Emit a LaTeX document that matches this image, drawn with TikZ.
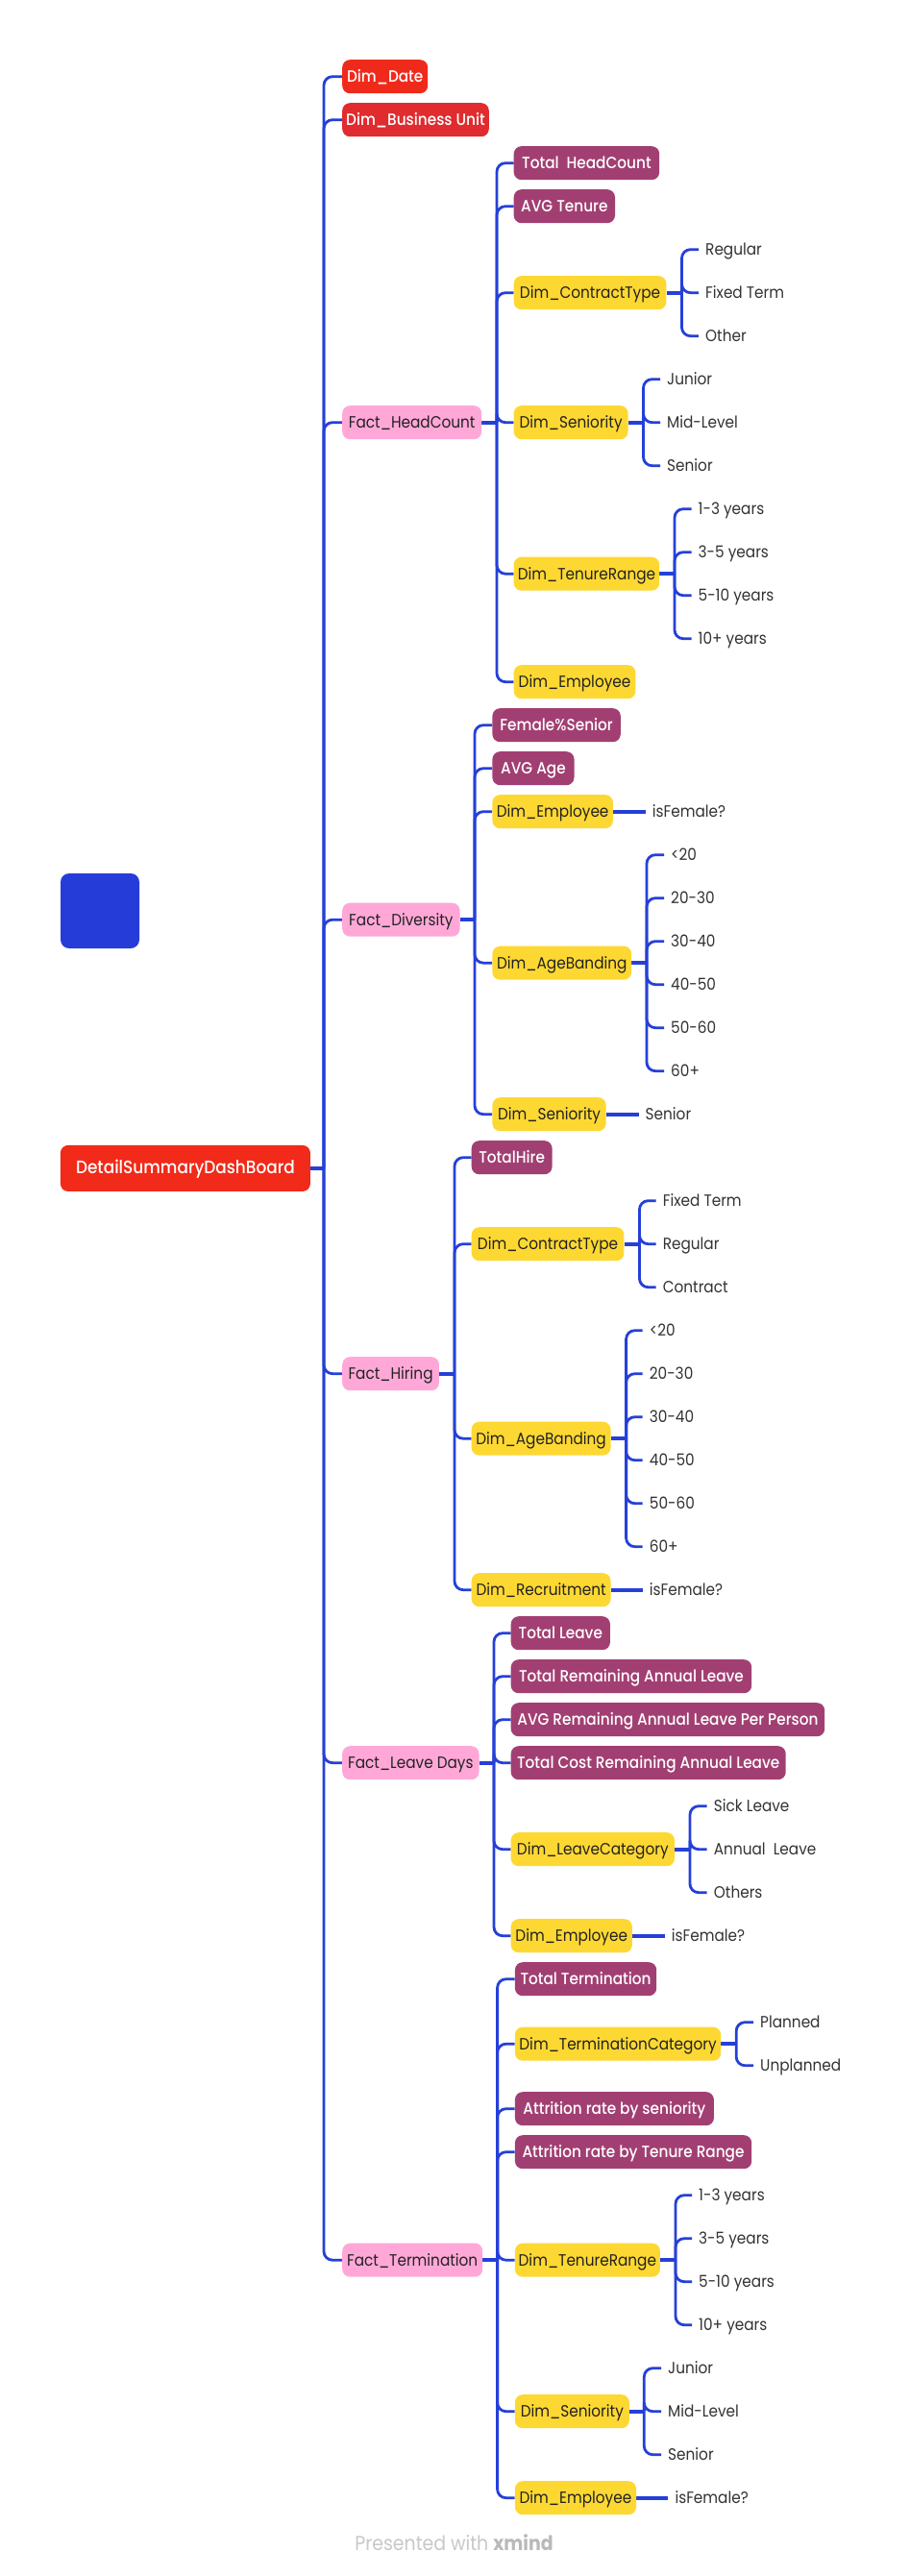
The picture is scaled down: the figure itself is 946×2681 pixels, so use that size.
\documentclass[tikz,border=0pt]{standalone}
\usepackage{fontspec}
\setmainfont{Poppins}[FakeStretch=0.9]
\newfontfamily\mediumfont{Poppins Medium}[FakeStretch=0.9]
\usetikzlibrary{backgrounds}

\definecolor{linkblue}{RGB}{37,64,216}
\definecolor{rootred}{RGB}{241,42,25}
\definecolor{datered}{RGB}{240,42,27}
\definecolor{unitred}{RGB}{224,43,47}
\definecolor{factpink}{RGB}{255,168,216}
\definecolor{measurepurple}{RGB}{162,63,114}
\definecolor{dimyellow}{RGB}{254,216,50}
\definecolor{squareblue}{RGB}{37,60,216}
\definecolor{darktext}{RGB}{34,34,34}
\definecolor{leaftext}{RGB}{51,51,51}
\definecolor{creditgray}{RGB}{200,200,200}
\definecolor{creditbold}{RGB}{185,185,185}

% row k of the outline sits at this vertical position
\newcommand\R[1]{79.7+45*(#1)}
% stub from a parent to its trunk, then one elbow per child
\newcommand\branch[3]{%
  \draw[stub] (#1.east) -- (#2);
  \foreach \c in {#3} {\draw[link] (#2) |- (\c.west);}%
}

\tikzset{
  topic/.style={rounded corners=8pt, minimum height=35pt, inner xsep=0pt, inner ysep=0pt,
    anchor=west, text height=15pt, text depth=3pt, font=\fontsize{17}{20}\selectfont},
  rootbox/.style={topic, minimum height=48pt, fill=rootred, text=white,
    font=\mediumfont\fontsize{18.8}{22}\selectfont},
  redtopic/.style={topic, fill=datered, text=white, font=\mediumfont\fontsize{17}{20}\selectfont},
  unittopic/.style={topic, fill=unitred, text=white, font=\mediumfont\fontsize{17}{20}\selectfont},
  fact/.style={topic, fill=factpink, text=darktext},
  measure/.style={topic, fill=measurepurple, text=white, font=\mediumfont\fontsize{17}{20}\selectfont},
  dim/.style={topic, fill=dimyellow, text=darktext},
  leaf/.style={anchor=west, inner xsep=7pt, inner ysep=0pt, text height=15pt, text depth=3pt,
    text=leaftext, font=\fontsize{17}{20}\selectfont},
  link/.style={draw=linkblue, line width=2.8pt, rounded corners=9pt},
  stub/.style={draw=linkblue, line width=4pt},
}

\begin{document}
\begin{tikzpicture}[x=1pt,y=-1pt]
\useasboundingbox (0,0) rectangle (946,2681);

% free-standing blue tile
\node[fill=squareblue, rounded corners=9pt, minimum width=82pt, minimum height=78pt, inner sep=0pt]
  (tile) at (104,948) {};

% central topic
\node[rootbox, minimum width=260] (root) at (62.7,{\R{25.25}}) {DetailSummaryDashBoard};

% main branches
\node[redtopic, minimum width=89] (date) at (356,{\R{0}}) {Dim\_Date};
\node[unittopic, minimum width=152.6] (bu) at (356,{\R{1}}) {Dim\_Business Unit};
\node[fact, minimum width=145] (fhc) at (356,{\R{8}}) {Fact\_HeadCount};
\node[fact, minimum width=122.4] (fdv) at (356,{\R{19.5}}) {Fact\_Diversity};
\node[fact, minimum width=100.7] (fhr) at (356,{\R{30}}) {Fact\_Hiring};
\node[fact, minimum width=142.3] (fld) at (356,{\R{39}}) {Fact\_Leave Days};
\node[fact, minimum width=146] (ftm) at (356,{\R{50.5}}) {Fact\_Termination};

% Fact_HeadCount
\node[measure, minimum width=151.5] (hcm1) at (534.5,{\R{2}}) {Total~~HeadCount};
\node[measure, minimum width=105.3] (hcm2) at (534.5,{\R{3}}) {AVG Tenure};
\node[dim, minimum width=158.7] (hcct) at (534.5,{\R{5}}) {Dim\_ContractType};
\node[leaf] (hcct1) at (727,{\R{4}}) {Regular};
\node[leaf] (hcct2) at (727,{\R{5}}) {Fixed Term};
\node[leaf] (hcct3) at (727,{\R{6}}) {Other};
\node[dim, minimum width=118.9] (hcsn) at (534.5,{\R{8}}) {Dim\_Seniority};
\node[leaf] (hcsn1) at (687,{\R{7}}) {Junior};
\node[leaf] (hcsn2) at (687,{\R{8}}) {Mid-Level};
\node[leaf] (hcsn3) at (687,{\R{9}}) {Senior};
\node[dim, minimum width=151.5] (hctr) at (534.5,{\R{11.5}}) {Dim\_TenureRange};
\node[leaf] (hctr1) at (719.5,{\R{10}}) {1-3 years};
\node[leaf] (hctr2) at (719.5,{\R{11}}) {3-5 years};
\node[leaf] (hctr3) at (719.5,{\R{12}}) {5-10 years};
\node[leaf] (hctr4) at (719.5,{\R{13}}) {10+ years};
\node[dim, minimum width=126.7] (hcem) at (534.5,{\R{14}}) {Dim\_Employee};

% Fact_Diversity
\node[measure, minimum width=133.4] (dvm1) at (512.2,{\R{15}}) {Female\%Senior};
\node[measure, minimum width=85.1] (dvm2) at (512.2,{\R{16}}) {AVG Age};
\node[dim, minimum width=125.5] (dvem) at (512.2,{\R{17}}) {Dim\_Employee};
\node[leaf] (dvem1) at (671.7,{\R{17}}) {isFemale?};
\node[dim, minimum width=144.8] (dvab) at (512.2,{\R{20.5}}) {Dim\_AgeBanding};
\node[leaf] (dvab1) at (691,{\R{18}}) {<20};
\node[leaf] (dvab2) at (691,{\R{19}}) {20-30};
\node[leaf] (dvab3) at (691,{\R{20}}) {30-40};
\node[leaf] (dvab4) at (691,{\R{21}}) {40-50};
\node[leaf] (dvab5) at (691,{\R{22}}) {50-60};
\node[leaf] (dvab6) at (691,{\R{23}}) {60+};
\node[dim, minimum width=118.3] (dvsn) at (512.2,{\R{24}}) {Dim\_Seniority};
\node[leaf] (dvsn1) at (664.5,{\R{24}}) {Senior};

% Fact_Hiring
\node[measure, minimum width=83.9] (hrm1) at (490.5,{\R{25}}) {TotalHire};
\node[dim, minimum width=158.7] (hrct) at (490.5,{\R{27}}) {Dim\_ContractType};
\node[leaf] (hrct1) at (682.6,{\R{26}}) {Fixed Term};
\node[leaf] (hrct2) at (682.6,{\R{27}}) {Regular};
\node[leaf] (hrct3) at (682.6,{\R{28}}) {Contract};
\node[dim, minimum width=144.8] (hrab) at (490.5,{\R{31.5}}) {Dim\_AgeBanding};
\node[leaf] (hrab1) at (668.7,{\R{29}}) {<20};
\node[leaf] (hrab2) at (668.7,{\R{30}}) {20-30};
\node[leaf] (hrab3) at (668.7,{\R{31}}) {30-40};
\node[leaf] (hrab4) at (668.7,{\R{32}}) {40-50};
\node[leaf] (hrab5) at (668.7,{\R{33}}) {50-60};
\node[leaf] (hrab6) at (668.7,{\R{34}}) {60+};
\node[dim, minimum width=144.8] (hrrc) at (490.5,{\R{35}}) {Dim\_Recruitment};
\node[leaf] (hrrc1) at (668.7,{\R{35}}) {isFemale?};

% Fact_Leave Days
\node[measure, minimum width=103.2] (ldm1) at (531.5,{\R{36}}) {Total Leave};
\node[measure, minimum width=250.5] (ldm2) at (531.5,{\R{37}}) {Total Remaining Annual Leave};
\node[measure, minimum width=326.5] (ldm3) at (531.5,{\R{38}}) {AVG Remaining Annual Leave Per Person};
\node[measure, minimum width=286] (ldm4) at (531.5,{\R{39}}) {Total Cost Remaining Annual Leave};
\node[dim, minimum width=170.2] (ldlc) at (531.5,{\R{41}}) {Dim\_LeaveCategory};
\node[leaf] (ldlc1) at (735.7,{\R{40}}) {Sick Leave};
\node[leaf] (ldlc2) at (735.7,{\R{41}}) {Annual~~Leave};
\node[leaf] (ldlc3) at (735.7,{\R{42}}) {Others};
\node[dim, minimum width=126.1] (ldem) at (531.5,{\R{43}}) {Dim\_Employee};
\node[leaf] (ldem1) at (691.6,{\R{43}}) {isFemale?};

% Fact_Termination
\node[measure, minimum width=147.3] (tmm1) at (535.7,{\R{44}}) {Total Termination};
\node[dim, minimum width=214.3] (tmtc) at (535.7,{\R{45.5}}) {Dim\_TerminationCategory};
\node[leaf] (tmtc1) at (784,{\R{45}}) {Planned};
\node[leaf] (tmtc2) at (784,{\R{46}}) {Unplanned};
\node[measure, minimum width=207] (tmm2) at (535.7,{\R{47}}) {Attrition rate by seniority};
\node[measure, minimum width=246.3] (tmm3) at (535.7,{\R{48}}) {Attrition rate by Tenure Range};
\node[dim, minimum width=150.9] (tmtr) at (535.7,{\R{50.5}}) {Dim\_TenureRange};
\node[leaf] (tmtr1) at (720,{\R{49}}) {1-3 years};
\node[leaf] (tmtr2) at (720,{\R{50}}) {3-5 years};
\node[leaf] (tmtr3) at (720,{\R{51}}) {5-10 years};
\node[leaf] (tmtr4) at (720,{\R{52}}) {10+ years};
\node[dim, minimum width=118.9] (tmsn) at (535.7,{\R{54}}) {Dim\_Seniority};
\node[leaf] (tmsn1) at (688,{\R{53}}) {Junior};
\node[leaf] (tmsn2) at (688,{\R{54}}) {Mid-Level};
\node[leaf] (tmsn3) at (688,{\R{55}}) {Senior};
\node[dim, minimum width=126.1] (tmem) at (535.7,{\R{56}}) {Dim\_Employee};
\node[leaf] (tmem1) at (695.3,{\R{56}}) {isFemale?};

% footer credit
\node[text=creditgray, font=\fontsize{21}{24}\selectfont, inner sep=0pt] (credit) at (472.5,2646)
  {Presented with \textcolor{creditbold}{\bfseries xmind}};

% trunks
\coordinate (rt) at (337,{\R{25.25}});
\coordinate (hct) at (517,{\R{8}});
\coordinate (hcctt) at (709.5,{\R{5}});
\coordinate (hcsnt) at (669.5,{\R{8}});
\coordinate (hctrt) at (702,{\R{11.5}});
\coordinate (dvt) at (494,{\R{19.5}});
\coordinate (dvabt) at (673,{\R{20.5}});
\coordinate (hrt) at (473,{\R{30}});
\coordinate (hrctt) at (665.5,{\R{27}});
\coordinate (hrabt) at (651.6,{\R{31.5}});
\coordinate (ldt) at (514,{\R{39}});
\coordinate (ldlct) at (718,{\R{41}});
\coordinate (tmt) at (517.6,{\R{50.5}});
\coordinate (tmtct) at (766.2,{\R{45.5}});
\coordinate (tmtrt) at (703,{\R{50.5}});
\coordinate (tmsnt) at (670.3,{\R{54}});

\begin{scope}[on background layer]
  \fill[white] (0,0) rectangle (946,2681);
  \branch{root}{rt}{date,bu,fhc,fdv,fhr,fld,ftm}
  \branch{fhc}{hct}{hcm1,hcm2,hcct,hcsn,hctr,hcem}
  \branch{hcct}{hcctt}{hcct1,hcct2,hcct3}
  \branch{hcsn}{hcsnt}{hcsn1,hcsn2,hcsn3}
  \branch{hctr}{hctrt}{hctr1,hctr2,hctr3,hctr4}
  \branch{fdv}{dvt}{dvm1,dvm2,dvem,dvab,dvsn}
  \branch{dvab}{dvabt}{dvab1,dvab2,dvab3,dvab4,dvab5,dvab6}
  \branch{fhr}{hrt}{hrm1,hrct,hrab,hrrc}
  \branch{hrct}{hrctt}{hrct1,hrct2,hrct3}
  \branch{hrab}{hrabt}{hrab1,hrab2,hrab3,hrab4,hrab5,hrab6}
  \branch{fld}{ldt}{ldm1,ldm2,ldm3,ldm4,ldlc,ldem}
  \branch{ldlc}{ldlct}{ldlc1,ldlc2,ldlc3}
  \branch{ftm}{tmt}{tmm1,tmtc,tmm2,tmm3,tmtr,tmsn,tmem}
  \branch{tmtc}{tmtct}{tmtc1,tmtc2}
  \branch{tmtr}{tmtrt}{tmtr1,tmtr2,tmtr3,tmtr4}
  \branch{tmsn}{tmsnt}{tmsn1,tmsn2,tmsn3}
  \draw[stub] (dvem.east) -- (dvem1.west);
  \draw[stub] (dvsn.east) -- (dvsn1.west);
  \draw[stub] (hrrc.east) -- (hrrc1.west);
  \draw[stub] (ldem.east) -- (ldem1.west);
  \draw[stub] (tmem.east) -- (tmem1.west);
\end{scope}
\end{tikzpicture}
\end{document}
